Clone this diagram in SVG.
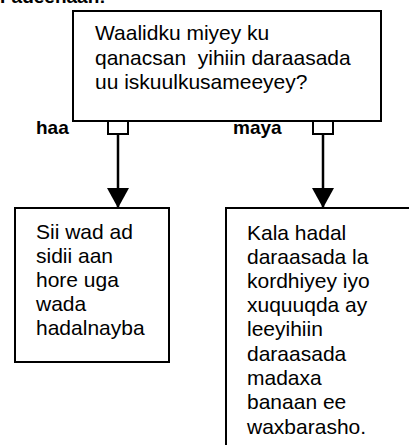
<svg xmlns="http://www.w3.org/2000/svg" width="409" height="445" viewBox="0 0 409 445">
<defs>
<style>
.box{fill:#fff;stroke:#000;stroke-width:2}
.sq{fill:#fff;stroke:#000;stroke-width:2}
.t{font-family:"Liberation Sans",Arial,sans-serif;font-size:21px;fill:#000}
.b{font-family:"Liberation Sans",Arial,sans-serif;font-size:19px;font-weight:bold;fill:#000}
.ln{stroke:#000;stroke-width:2.5;fill:none}
</style>
<marker id="ah" markerWidth="20" markerHeight="22" refX="20" refY="11" orient="auto" markerUnits="userSpaceOnUse" viewBox="0 0 20 22">
<path d="M0,0 L20,11 L0,22 Z" fill="#000"/>
</marker>
</defs>
<rect width="409" height="445" fill="#fff"/>
<text class="b" x="0" y="2.5">Fadeenaan:</text>
<g id="question">
<rect class="box" x="73" y="11" width="308" height="110"/>
<text class="t" x="95" y="40">Waalidku miyey ku</text>
<text class="t" x="95" y="65" xml:space="preserve">qanacsan  yihiin daraasada</text>
<text class="t" x="95" y="89">uu iskuulkusameeyey?</text>
</g>
<g id="connectors">
<rect class="sq" x="108" y="121" width="20" height="13"/>
<rect class="sq" x="313" y="121" width="20" height="13"/>
<line class="ln" x1="118" y1="134" x2="118" y2="208" marker-end="url(#ah)"/>
<line class="ln" x1="323" y1="134" x2="323" y2="208" marker-end="url(#ah)"/>
<text class="b" x="36" y="134">haa</text>
<text class="b" x="233" y="134">maya</text>
</g>
<g id="yes">
<rect class="box" x="15" y="208" width="154" height="154"/>
<text class="t" x="36" y="239">Sii wad ad</text>
<text class="t" x="36" y="263">sidii aan</text>
<text class="t" x="36" y="287">hore uga</text>
<text class="t" x="36" y="311">wada</text>
<text class="t" x="36" y="335">hadalnayba</text>
</g>
<g id="no">
<rect class="box" x="226" y="208" width="200" height="260"/>
<text class="t" x="247" y="240">Kala hadal</text>
<text class="t" x="247" y="264">daraasada la</text>
<text class="t" x="247" y="288">kordhiyey iyo</text>
<text class="t" x="247" y="312">xuquuqda ay</text>
<text class="t" x="247" y="336">leeyihiin</text>
<text class="t" x="247" y="361">daraasada</text>
<text class="t" x="247" y="385">madaxa</text>
<text class="t" x="247" y="409">banaan ee</text>
<text class="t" x="247" y="434">waxbarasho.</text>
</g>
</svg>
